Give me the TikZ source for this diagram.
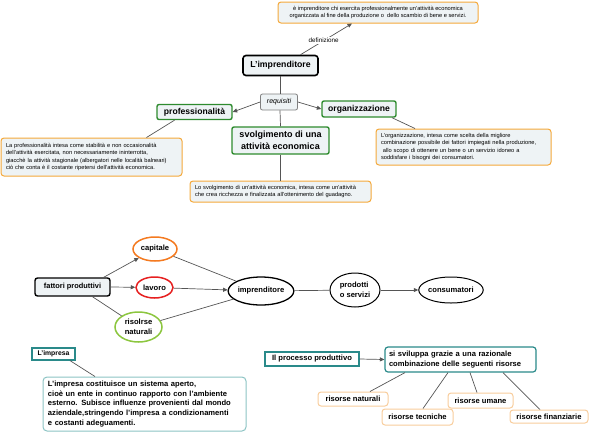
\documentclass[tikz,border=0pt]{standalone}
\usepackage{fontspec}
\setmainfont{Liberation Sans}
\usepackage{tikz}
\usetikzlibrary{shapes,arrows.meta,calc}
\definecolor{boxfill}{HTML}{EEF3F5}
\definecolor{orangeline}{HTML}{F5A93A}
\definecolor{greenline}{HTML}{2E8B2E}
\definecolor{tealline}{HTML}{2A8A8A}
\definecolor{lightteal}{HTML}{8CC4C4}
\definecolor{lightorange}{HTML}{F8CD9C}
\definecolor{capline}{HTML}{F47A20}
\definecolor{lavline}{HTML}{E62020}
\definecolor{risline}{HTML}{8CC63F}
\definecolor{linegray}{HTML}{555555}

\begin{document}
\begin{tikzpicture}[x=1pt,y=-1pt]
        \tikzstyle{every node}=[inner sep=0pt]
        \tikzstyle{desctext}=[font=\fontsize{5.7}{7.4}\selectfont]
        \tikzstyle{boldtext}=[font=\fontsize{7.6}{9.6}\selectfont\bfseries]
        \tikzstyle{descbox}=[draw=orangeline,fill=boxfill,line width=1pt,rounded corners=3pt,desctext]
        \tikzstyle{reqbox}=[draw=greenline,fill=boxfill,line width=1.4pt,rounded corners=2pt,font=\fontsize{8.6}{11}\selectfont\bfseries]
        \tikzstyle{oval}=[ellipse,draw,fill=white,boldtext]
        \tikzstyle{tealbox}=[draw=tealline,fill=white,line width=1.2pt,boldtext]
        \tikzstyle{risbox}=[draw=lightorange,fill=white,line width=1pt,rounded corners=3pt,boldtext]
        \tikzstyle{conn}=[draw=linegray,line width=0.7pt]
        \tikzstyle{arr}=[conn,-{Triangle[length=4.5pt,width=4pt]}]
        \useasboundingbox (0,0) rectangle (590,432);
        % definizione e requisiti
        \node[descbox,minimum width=200pt,minimum height=21pt,align=center] (defbox) at (378,12.5)
          {è imprenditore chi esercita professionalmente un'attività economica\\
           organizzata al fine della produzione o~ dello scambio di bene e servizi.};
        \node[draw=black,fill=boxfill,line width=1.6pt,rounded corners=3pt,minimum width=75pt,minimum height=20pt,
          font=\fontsize{8.7}{10}\selectfont\bfseries] (limp) at (280.5,65.5) {L'imprenditore};
        \node[draw=gray,fill=boxfill,line width=0.8pt,rounded corners=2pt,minimum width=37pt,minimum height=16pt,
          font=\fontsize{7}{8}\selectfont\itshape] (req) at (279,102) {requisiti};
        \node[reqbox,minimum width=75pt,minimum height=15pt] (prof) at (194.5,112) {professionalità};
        \node[reqbox,minimum width=74pt,minimum height=16pt] (org) at (359,109) {organizzazione};
        \node[reqbox,minimum width=97pt,minimum height=27pt,align=center,font=\fontsize{9}{11.5}\selectfont\bfseries]
          (svolg) at (280.5,140.5) {svolgimento di una\\attività economica};
        \node[descbox,minimum width=181pt,minimum height=38pt,text width=171pt,inner xsep=5pt,align=left] (profdesc) at (91.5,157)
          {La professionalità intesa come stabilità e non occasionalità\\
           dell'attività esercitata, non necessariamente ininterrotta,\\
           giacchè la attività stagionale (albergatori nelle località balneari)\\
           ciò che conta è il costante ripetersi dell'attività economica.};
        \node[descbox,minimum width=175pt,minimum height=36pt,text width=165pt,inner xsep=5pt,align=left] (orgdesc) at (463.5,147)
          {L'organizzazione, intesa come scelta della migliore\\
           combinazione possibile dei fattori impiegati nella produzione,\\
           \ allo scopo di ottenere un bene o un servizio idoneo a\\
           soddisfare i bisogni dei consumatori.};
        \node[descbox,minimum width=181pt,minimum height=21pt,text width=171pt,inner xsep=5pt,align=left] (svolgdesc) at (280.5,191.5)
          {Lo svolgimento di un'attività economica, intesa come un'attività\\
           che crea ricchezza e finalizzata all'ottenimento del guadagno.};
        \draw[arr] ([xshift=20pt]limp.north) -- node[pos=0.45,fill=white,inner sep=1pt,font=\fontsize{6.3}{7}\selectfont] {definizione}
          ([xshift=-26pt]defbox.south);
        \draw[conn] (limp.south -| req.north) ++(1,0) coordinate (lt) -- (lt |- req.north);
        \draw[conn] (lt |- req.south) -- (svolg.north);
        \draw[conn] (svolg.south) -- (svolgdesc.north);
        \draw[arr] (req.west) -- (prof.east);
        \draw[arr] (req.east) -- (org.west);
        \draw[conn] ([xshift=-20pt]prof.south) -- ([xshift=55pt]profdesc.north);
        \draw[conn] ([xshift=33pt]org.south) -- ([xshift=-48.5pt]orgdesc.north);
        % fattori produttivi
        \node[draw=black,fill=boxfill,line width=1.4pt,rounded corners=2.5pt,minimum width=75pt,minimum height=18pt,
          font=\fontsize{7.4}{8}\selectfont\bfseries] (fatt) at (72.5,287) {fattori produttivi};
        \node[oval,draw=capline,line width=1.5pt,minimum width=44pt,minimum height=24pt] (cap) at (155,249) {capitale};
        \node[oval,draw=lavline,line width=1.5pt,minimum width=37pt,minimum height=21pt] (lav) at (154.5,287.5) {lavoro};
        \node[oval,draw=risline,line width=1.5pt,minimum width=47pt,minimum height=30pt,align=center] (ris) at (138.5,327)
          {risolrse\\naturali};
        \node[oval,draw=black,line width=1.3pt,minimum width=62pt,minimum height=28pt] (impr) at (261,291) {imprenditore};
        \node[oval,draw=black,line width=1pt,minimum width=50pt,minimum height=34pt,align=left] (prod) at (355,290)
          {prodotti\\o servizi};
        \node[oval,draw=black,line width=1pt,minimum width=62pt,minimum height=26pt] (cons) at (451,290) {consumatori};
        \draw[arr] ([xshift=-7pt]fatt.north east) -- (cap);
        \draw[arr] (fatt.east) -- (lav);
        \draw[conn] ([xshift=20pt]fatt.south) -- (ris);
        \draw[conn] (cap) -- (impr);
        \draw[arr] (lav) -- (impr);
        \draw[conn] (ris) -- (impr);
        \draw[conn] (impr) -- (prod);
        \draw[arr] (prod) -- (cons);
        % impresa e processo produttivo
        \node[tealbox,minimum width=43pt,minimum height=12pt,font=\fontsize{6.8}{8}\selectfont\bfseries] (impresa) at (53.5,354)
          {L'impresa};
        \node[draw=lightteal,fill=white,line width=1pt,rounded corners=4pt,minimum width=203pt,minimum height=54pt,
          text width=193pt,inner xsep=5pt,align=left,boldtext] (impdesc) at (144.5,404)
          {L'impresa costituisce un sistema aperto,\\
           cioè un ente in continuo rapporto con l'ambiente\\
           esterno. Subisce influenze provenienti dal mondo\\
           aziendale,stringendo l'impresa a condizionamenti\\
           e costanti adeguamenti.};
        \draw[conn] ([xshift=16.5pt]impresa.south) -- ([xshift=-49.5pt]impdesc.north);
        \node[tealbox,minimum width=94pt,minimum height=14pt] (proc) at (312,359) {Il processo produttivo};
        \node[tealbox,rounded corners=3pt,minimum width=151pt,minimum height=25pt,text width=143pt,inner xsep=4pt,align=left]
          (svil) at (460.5,359.5) {si sviluppa grazie a una razionale\\combinazione delle seguenti risorse};
        \draw[arr] (proc.east) -- (svil.west);
        \node[risbox,minimum width=70pt,minimum height=14pt] (rnat) at (353,399) {risorse naturali};
        \node[risbox,minimum width=71pt,minimum height=16pt] (rtec) at (417.5,417) {risorse tecniche};
        \node[risbox,minimum width=65pt,minimum height=15pt] (ruma) at (480.5,400.5) {risorse umane};
        \node[risbox,minimum width=78pt,minimum height=13pt] (rfin) at (549,416.5) {risorse finanziarie};
        \draw[conn] ([xshift=-55.5pt]svil.south) -- ([xshift=17pt]rnat.north);
        \draw[conn] ([xshift=-12.5pt]svil.south) -- ([xshift=5.5pt]rtec.north);
        \draw[conn] ([xshift=9.5pt]svil.south) -- ([xshift=-3.5pt]ruma.north);
        \draw[conn] ([xshift=42.5pt]svil.south) -- ([xshift=-9pt]rfin.north);
      \end{tikzpicture}
\end{document}
